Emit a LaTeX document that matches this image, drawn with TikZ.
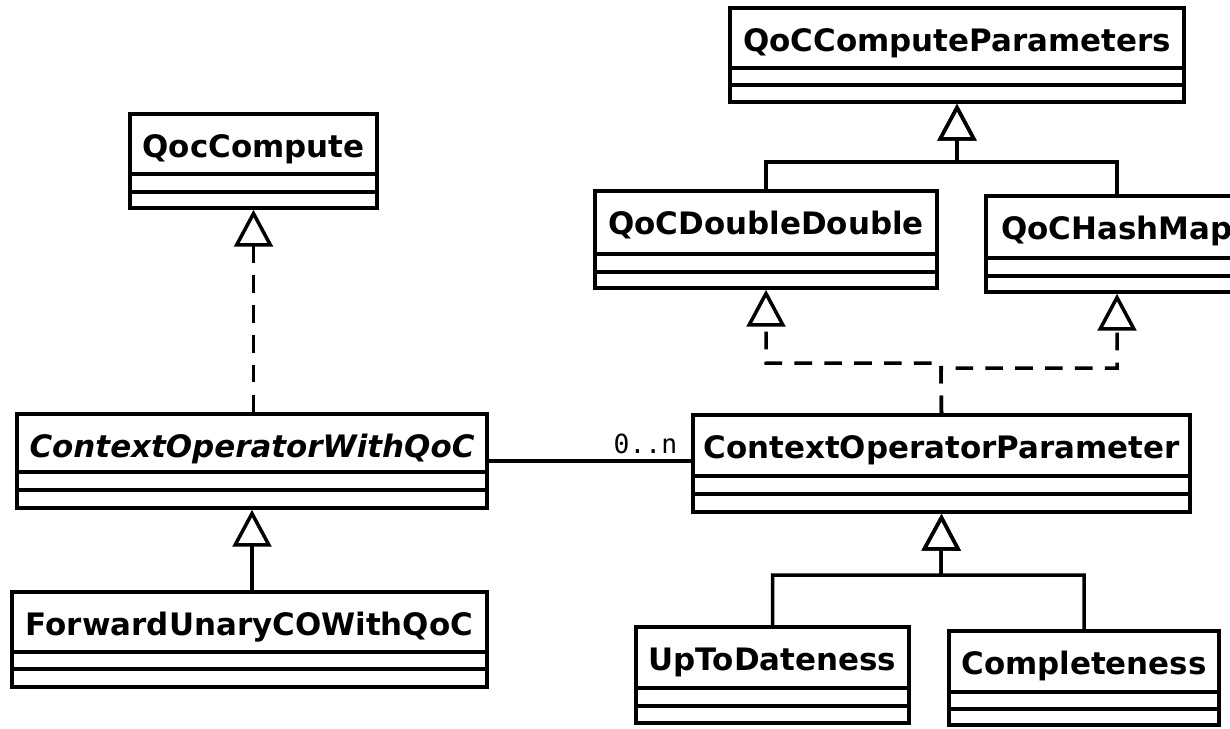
\documentclass[tikz,border=0pt]{standalone}
\usepackage{fontspec}
\setmainfont{DejaVu Sans}
\newfontfamily\labelfont{DejaVu Sans Mono}
\usepackage{tikz}
\usetikzlibrary{arrows.meta,fit}

% one UML class: name, left, top, right, bottom, first rule, second rule, title
\newcommand{\umlclass}[8]{%
  \coordinate (#1-nw) at (#2,#3);
  \coordinate (#1-se) at (#4,#5);
  \node[classbox, fit=(#1-nw)(#1-se)] (#1) {};
  \node[classname] (#1-name) at ({(#2+#4)/2},{#3+43}) {#8};
  \draw (#2,#6) -- (#4,#6);
  \draw (#2,#7) -- (#4,#7);
}

\begin{document}
\begin{tikzpicture}[x=0.02cm, y=-0.02cm, line width=2pt,
  classbox/.style={draw, inner sep=0pt},
  classname/.style={font=\bfseries\fontsize{17.6}{20}\selectfont, inner sep=0pt, anchor=base},
  inherit/.style={-{Triangle[open, length=21pt, width=22pt]}},
  realize/.style={inherit, dash pattern=on 10pt off 7pt}]
\useasboundingbox (0,0) rectangle (1230,728);
\clip (0,0) rectangle (1230,728);

\umlclass{ccp}{730}{8}{1184}{102}{68}{85}{QoCComputeParameters}
\umlclass{qc}{130}{114}{377}{208}{174}{192}{QocCompute}
\umlclass{dd}{595}{191}{937}{288}{254}{272}{QoCDoubleDouble}
\umlclass{hm}{986}{196}{1248}{292}{258}{276}{QoCHashMap}
\umlclass{cow}{17}{414}{487}{508}{472}{490}{\itshape ContextOperatorWithQoC}
\umlclass{cop}{693}{415}{1190}{512}{476}{494}{ContextOperatorParameter}
\umlclass{fwd}{12}{592}{487}{687}{652}{669}{ForwardUnaryCOWithQoC}
\umlclass{utd}{636}{627}{909}{723}{688}{706}{UpToDateness}
\umlclass{cmp}{949}{631}{1219}{725}{692}{709}{Completeness}

\coordinate (pbar) at (957,162);
\coordinate (cbar) at (941,575);
\coordinate (jl) at (941,363);
\coordinate (jr) at (941,368);

\draw[inherit] (dd.north) |- (pbar) -- (ccp.south);
\draw[inherit] (hm.north) |- (pbar) -- (ccp.south);
\draw[inherit] (utd.north) |- (cbar) -- (cop.north |- cop.south);
\draw[inherit] (cmp.north) |- (cbar) -- (cop.north |- cop.south);
\draw[inherit] (cow.south |- fwd.north) -- (cow.south);

\draw[realize] (qc.south |- cow.north) -- (qc.south);
\draw[realize] (cop.north) -- (jl) -| (dd.south);
\draw[realize] (cop.north) -- (jr) -| (hm.south);

\draw (cow.east) -- (cow.east -| cop.west)
  node[anchor=south east, inner xsep=7pt, inner ysep=3pt, font=\labelfont\fontsize{15}{17}\selectfont] {0..n};
\end{tikzpicture}
\end{document}
